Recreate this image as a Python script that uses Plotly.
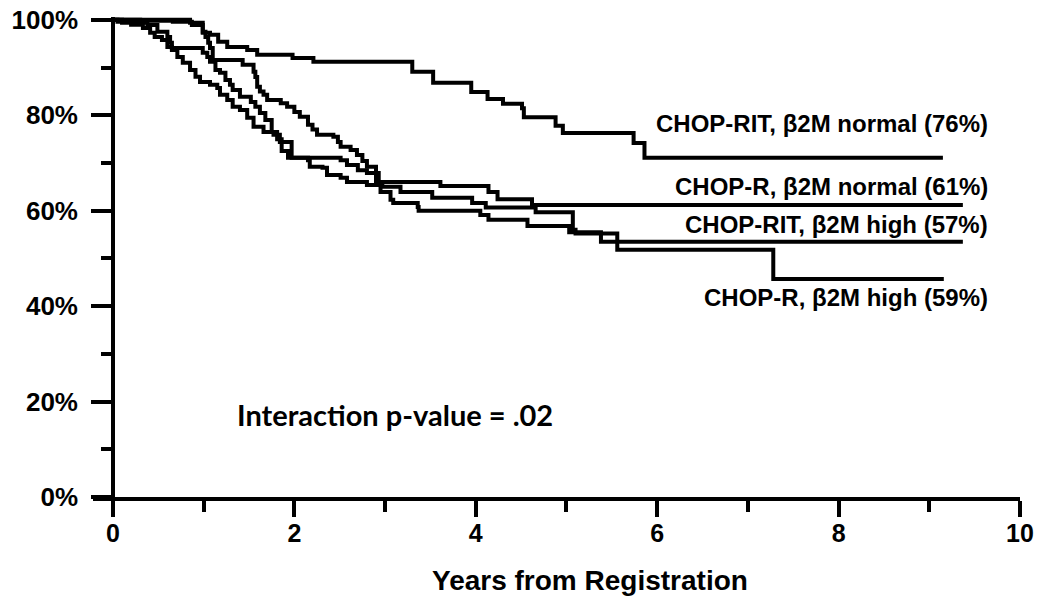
import plotly.graph_objects as go

# ---- data (years, % surviving) ----
t_rit_normal = [0, 0.85, 0.99, 1.07, 1.16, 1.26, 1.48, 1.59, 1.98, 2.21, 3.30, 3.53, 3.95,
                4.13, 4.30, 4.51, 4.53, 4.88, 4.96, 5.74, 5.86, 9.15]
s_rit_normal = [100, 99.4, 97.3, 96.9, 95.4, 94.3, 93.7, 92.7, 92.0, 91.2, 89.1, 86.8, 84.9,
                83.4, 82.4, 81.5, 79.6, 77.8, 76.3, 74.2, 71.1, 71.1]

t_r_normal = [0, 0.10, 0.38, 0.49, 0.60, 0.63, 0.65, 0.99, 1.04, 1.07, 1.13, 1.18, 1.24, 1.29,
              1.32, 1.40, 1.52, 1.57, 1.62, 1.68, 1.75, 1.81, 1.86, 1.93, 2.51, 2.58, 2.70,
              2.80, 2.93, 3.61, 4.14, 4.24, 4.62, 9.37]
s_r_normal = [100, 99.4, 98.9, 97.5, 96.4, 95.2, 94.1, 93.1, 92.2, 91.2, 89.5, 88.9, 87.4, 86.4,
              85.3, 83.9, 82.8, 81.8, 80.5, 79.0, 76.5, 75.0, 72.5, 71.1, 70.6, 69.6, 68.5,
              67.9, 66.0, 65.2, 63.9, 62.4, 61.2, 61.2]

t_rit_high = [0, 0.05, 0.20, 0.33, 0.41, 0.46, 0.54, 0.60, 0.65, 0.71, 0.77, 0.85, 0.91, 0.96,
              1.07, 1.15, 1.18, 1.26, 1.32, 1.40, 1.48, 1.55, 1.66, 1.77, 1.84, 1.97, 2.15,
              2.17, 2.31, 2.36, 2.51, 2.58, 2.80, 2.95, 3.06, 3.09, 3.36, 3.37, 4.05, 4.14,
              4.57, 5.03, 5.38, 9.37]
s_rit_high = [100, 99.6, 99.0, 98.3, 97.3, 96.4, 95.8, 94.3, 93.7, 92.2, 91.0, 89.5, 88.1, 87.0,
              86.4, 85.7, 84.3, 83.2, 81.8, 81.1, 79.5, 77.6, 76.5, 75.9, 74.4, 71.1, 70.6,
              69.2, 69.0, 67.5, 66.9, 66.0, 65.4, 63.9, 62.3, 61.6, 60.8, 60.0, 59.1, 58.1,
              56.8, 55.5, 53.5, 53.5]

t_r_high = [0, 0.30, 0.66, 0.87, 0.99, 1.02, 1.05, 1.07, 1.10, 1.43, 1.55, 1.57, 1.59, 1.62,
            1.66, 1.70, 1.85, 1.92, 2.00, 2.06, 2.15, 2.20, 2.25, 2.43, 2.48, 2.51, 2.62, 2.69,
            2.75, 2.80, 2.90, 2.97, 3.17, 3.52, 3.96, 4.11, 4.66, 5.07, 5.10, 5.56, 7.28, 9.16]
s_r_high = [100, 99.8, 99.6, 98.9, 97.5, 96.4, 95.2, 94.1, 91.6, 90.6, 89.1, 88.0, 86.0, 85.0,
            84.3, 83.2, 82.5, 81.8, 80.7, 79.7, 78.0, 77.0, 75.9, 75.5, 74.4, 73.4, 72.7, 71.7,
            70.4, 69.2, 65.6, 65.0, 63.9, 62.7, 61.6, 60.7, 59.7, 56.0, 55.2, 51.8, 45.7, 45.7]

series_names = ["CHOP-RIT, β2M normal (76%)", "CHOP-R, β2M normal (61%)",
                "CHOP-RIT, β2M high (57%)", "CHOP-R, β2M high (59%)"]
x_ticks = [0, 2, 4, 6, 8, 10]
y_ticks = [0, 20, 40, 60, 80, 100]
x_title = "Years from Registration"
note_text = "Interaction p-value = .02"

FONT = "Liberation Sans, Arial, sans-serif"

fig = go.Figure()
for name, t, s in [(series_names[0], t_rit_normal, s_rit_normal),
                   (series_names[1], t_r_normal, s_r_normal),
                   (series_names[2], t_rit_high, s_rit_high),
                   (series_names[3], t_r_high, s_r_high)]:
    fig.add_trace(go.Scatter(x=t, y=s, mode="lines", name=name,
                             line=dict(color="black", width=4, shape="hv")))

# label annotations (paper coords)
label_y = [0.779, 0.646, 0.567, 0.415]
for name, yy in zip(series_names, label_y):
    fig.add_annotation(text=name, xref="paper", yref="paper", x=0.9676, y=yy,
                       xanchor="right", yanchor="middle", showarrow=False,
                       font=dict(family=FONT, size=24, color="black", weight="bold"))

fig.add_annotation(text=note_text, xref="paper", yref="paper", x=0.153, y=0.171,
                   xanchor="left", yanchor="middle", showarrow=False,
                   font=dict(family="Lato, Open Sans, sans-serif", size=29, color="black",
                             weight="bold"))

fig.add_annotation(text=x_title, xref="paper", yref="paper", x=0.536, y=-0.173,
                   xanchor="center", yanchor="middle", showarrow=False,
                   font=dict(family=FONT, size=28, color="black", weight="bold"))

fig.update_layout(
    width=1045, height=606,
    margin=dict(l=93, r=25, t=17, b=109, autoexpand=False),
    paper_bgcolor="white", plot_bgcolor="white",
    showlegend=False,
    xaxis=dict(range=[-0.22, 10.0], showgrid=False, zeroline=False, automargin=False,
               showline=True, linecolor="black", linewidth=4,
               tickmode="array", tickvals=x_ticks, ticktext=[str(v) for v in x_ticks],
               ticks="outside", ticklen=16, tickwidth=3.5, tickcolor="black",
               minor=dict(dtick=1, tick0=0, ticks="outside", ticklen=11, tickwidth=3.5,
                          tickcolor="black", showgrid=False),
               tickfont=dict(family=FONT, size=25, color="black", weight="bold"),
               ticklabelstandoff=-5),
    yaxis=dict(range=[0, 100.6], showgrid=False, zeroline=False, automargin=False,
               anchor="free", position=0.22 / 10.22,
               showline=True, linecolor="black", linewidth=3.5,
               tickmode="array", tickvals=y_ticks, ticktext=[f"{v}%" for v in y_ticks],
               ticks="outside", ticklen=20, tickwidth=3.5, tickcolor="black",
               minor=dict(dtick=10, tick0=0, ticks="outside", ticklen=10, tickwidth=3.5,
                          tickcolor="black", showgrid=False),
               tickfont=dict(family=FONT, size=26, color="black", weight="bold"),
               ticklabelstandoff=8),
)

fig.write_html("out.html", config={"displayModeBar": False},
               post_script="document.body.style.margin='0';document.body.style.padding='0';")
